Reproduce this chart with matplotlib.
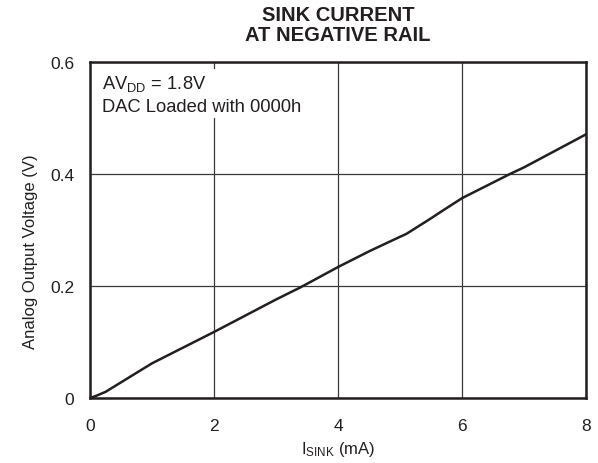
import matplotlib
matplotlib.use('Agg')
import matplotlib.pyplot as plt

plt.rcParams['font.family'] = ['Liberation Sans', 'DejaVu Sans']
plt.rcParams['mathtext.fontset'] = 'custom'
plt.rcParams['mathtext.rm'] = 'Liberation Sans'
plt.rcParams['mathtext.it'] = 'Liberation Sans'
plt.rcParams['mathtext.bf'] = 'Liberation Sans:bold'

# sink current (mA) vs output voltage (V)
i_sink = [0, 0.1, 0.25, 0.5, 1, 2, 3, 3.4, 4, 4.5, 5, 5.1, 5.3, 5.5,
          5.65, 6, 6.77, 7, 8]
v_out = [0, 0.004, 0.011, 0.028, 0.062, 0.118, 0.176, 0.198, 0.234,
         0.262, 0.288, 0.293, 0.307, 0.321, 0.332, 0.357, 0.400, 0.412,
         0.471]

x_ticks = [0, 2, 4, 6, 8]
y_ticks = [0, 0.2, 0.4, 0.6]
y_tick_labels = ['0', '0.2', '0.4', '0.6']

ink = '#231f20'

fig = plt.figure(figsize=(5.98, 4.64), dpi=100)
ax = fig.add_axes([0.1505, 0.140, 0.8295, 0.724])

ax.plot(i_sink, v_out, color=ink, linewidth=1.8, zorder=3)

ax.set_xlim(0, 8)
ax.set_ylim(0, 0.6)
ax.set_xticks(x_ticks)
ax.set_xticklabels([str(x) for x in x_ticks])
ax.set_yticks(y_ticks)
ax.set_yticklabels(y_tick_labels)
ax.tick_params(length=0, labelsize=12.5, colors=ink)
ax.tick_params(axis='x', pad=14.5)
ax.tick_params(axis='y', pad=11.5)

ax.grid(True, color='#3a3a3a', linewidth=0.9)
ax.set_axisbelow(True)
for spine in ax.spines.values():
    spine.set_linewidth(1.8)
    spine.set_color(ink)

ax.set_xlabel(r'I$_{\mathrm{SINK}}$ (mA)', fontsize=12, labelpad=4,
              color=ink)
ax.set_ylabel('Analog Output Voltage (V)', fontsize=12, color=ink)
ax.yaxis.set_label_coords(-0.105, 0.44)

ax.set_title('SINK CURRENT\nAT NEGATIVE RAIL', fontsize=14.5,
             fontweight='bold', linespacing=1.03, pad=16, color=ink)

ax.text(0.025, 0.967, 'AV$_{\\mathrm{DD}}$ = 1.8V\nDAC Loaded with 0000h',
        transform=ax.transAxes, fontsize=13.2, va='top', ha='left',
        linespacing=1.4, color=ink, zorder=4,
        bbox=dict(facecolor='white', edgecolor='none', pad=2))

fig.savefig('out.png', dpi=100)
